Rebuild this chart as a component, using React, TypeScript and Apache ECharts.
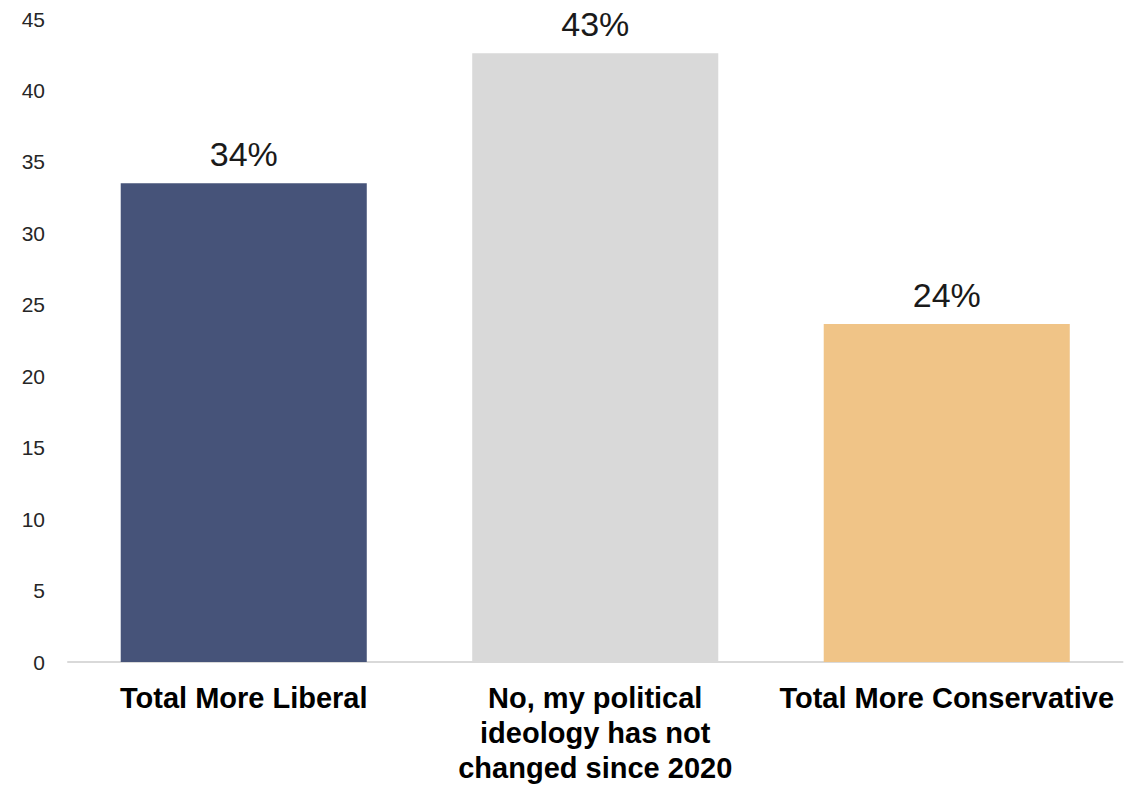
import React, { useEffect, useRef } from "react";
import * as echarts from "echarts";

const categories = [
  "Total More Liberal",
  "No, my political\nideology has not\nchanged since 2020",
  "Total More Conservative",
];
const values = [33.5, 42.6, 23.65];
const valueLabels = ["34%", "43%", "24%"];
const barColors = ["#465379", "#d9d9d9", "#f0c487"];
const yTicks = { min: 0, max: 45, interval: 5 };

export default function App() {
  const ref = useRef<HTMLDivElement>(null);
  useEffect(() => {
    if (!ref.current) return;
    const chart = echarts.init(ref.current, undefined, { renderer: "svg" });
    chart.setOption({
      animation: false,
      grid: { left: 68, right: 19.5, top: 19, bottom: 127, containLabel: false },
      xAxis: {
        type: "category",
        data: categories,
        axisLine: { show: true, lineStyle: { color: "#d9d9d9", width: 2 } },
        axisTick: { show: false },
        axisLabel: {
          interval: 0,
          color: "#000",
          fontFamily: "Liberation Sans, Arial, sans-serif",
          fontWeight: "bold",
          fontSize: 29,
          lineHeight: 35,
          margin: 18,
          align: "center",
          verticalAlign: "top",
        },
      },
      yAxis: {
        type: "value",
        min: yTicks.min,
        max: yTicks.max,
        interval: yTicks.interval,
        splitLine: { show: false },
        axisLine: { show: false },
        axisTick: { show: false },
        axisLabel: {
          color: "#262626",
          fontFamily: "Liberation Sans, Arial, sans-serif",
          fontSize: 21,
          margin: 23,
        },
      },
      series: [
        {
          type: "bar",
          barWidth: "70%",
          data: values.map((v, i) => ({ value: v, itemStyle: { color: barColors[i] } })),
          label: {
            show: true,
            position: "top",
            distance: 12,
            color: "#1a1a1a",
            fontFamily: "Liberation Sans, Arial, sans-serif",
            fontSize: 34,
            formatter: (p: any) => valueLabels[p.dataIndex],
          },
        },
      ],
    });
    return () => chart.dispose();
  }, []);
  return (
    <div
      ref={ref}
      style={{ position: "fixed", left: 0, top: 0, width: 1142, height: 789, background: "#fff" }}
    />
  );
}
